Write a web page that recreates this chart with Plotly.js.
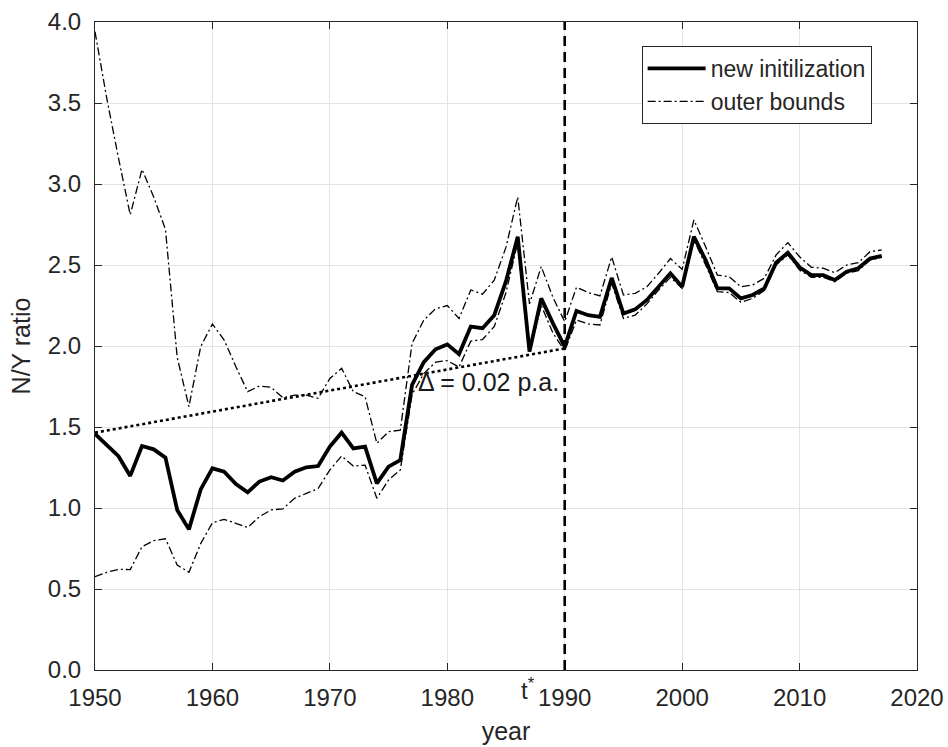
<!DOCTYPE html>
<html>
<head>
<meta charset="utf-8">
<script src="https://cdn.plot.ly/plotly-3.0.1.min.js"></script>
<style>html,body{margin:0;padding:0;background:#fff;}#chart{width:948px;height:747px;}</style>
</head>
<body>
<div id="chart"></div>
<script>
// ---- data ----
const years = [];
for (let y = 1950; y <= 2017; y++) years.push(y);

const newInit = [
  1.457, 1.39, 1.32, 1.198, 1.383, 1.362, 1.311, 0.988, 0.868, 1.115,
  1.245, 1.224, 1.148, 1.097, 1.163, 1.19, 1.17, 1.224, 1.251, 1.259,
  1.379, 1.465, 1.368, 1.379, 1.152, 1.255, 1.296, 1.76, 1.90, 1.98,
  2.01, 1.95, 2.12, 2.11, 2.19, 2.40, 2.675, 1.965, 2.294, 2.14,
  1.996, 2.216, 2.19, 2.18, 2.42, 2.20, 2.226, 2.284, 2.366, 2.449,
  2.366, 2.675, 2.53, 2.356, 2.356, 2.294, 2.315, 2.356, 2.514, 2.576,
  2.486, 2.438, 2.438, 2.407, 2.459, 2.48, 2.54, 2.556
];

const upperBound = [
  3.94, 3.53, 3.16, 2.81, 3.09, 2.92, 2.72, 1.93, 1.626, 1.996,
  2.136, 2.037, 1.872, 1.718, 1.753, 1.745, 1.68, 1.697, 1.697, 1.677,
  1.80, 1.862, 1.718, 1.687, 1.399, 1.471, 1.481, 2.016, 2.16, 2.23,
  2.25, 2.17, 2.346, 2.32, 2.407, 2.61, 2.92, 2.26, 2.49, 2.30,
  2.15, 2.362, 2.33, 2.309, 2.55, 2.315, 2.325, 2.366, 2.449, 2.54,
  2.473, 2.778, 2.613, 2.438, 2.428, 2.366, 2.377, 2.418, 2.562, 2.638,
  2.551, 2.486, 2.48, 2.453, 2.5, 2.514, 2.582, 2.593
];

const lowerBound = [
  0.576, 0.603, 0.621, 0.62, 0.761, 0.798, 0.81, 0.648, 0.603, 0.78,
  0.909, 0.93, 0.905, 0.88, 0.946, 0.988, 0.995, 1.06, 1.09, 1.12,
  1.235, 1.321, 1.259, 1.265, 1.06, 1.173, 1.235, 1.70, 1.83, 1.90,
  1.91, 1.87, 2.03, 2.04, 2.12, 2.33, 2.64, 1.96, 2.25, 2.08,
  1.97, 2.16, 2.136, 2.13, 2.387, 2.17, 2.19, 2.26, 2.346, 2.424,
  2.356, 2.654, 2.5, 2.335, 2.33, 2.27, 2.294, 2.342, 2.5, 2.562,
  2.469, 2.424, 2.424, 2.397, 2.449, 2.465, 2.531, 2.547
];

const trendYears = [1950, 1990];
const trendValues = [1.465, 1.985];
const tStar = 1990;

const xTicks = [1950, 1960, 1970, 1980, 1990, 2000, 2010, 2020];
const yTicks = [0, 0.5, 1, 1.5, 2, 2.5, 3, 3.5, 4];

const seriesNames = ['new initilization', 'outer bounds'];
const xLabel = 'year';
const yLabel = 'N/Y ratio';
const slopeLabel = '\u0394 = 0.02 p.a.';
const tStarLabel = 't<sup>*</sup>';

// ---- chart ----
const FONT = 'Liberation Sans, Arial, Helvetica, sans-serif';
const AX = '#262626';
const dashDot = '8px,3px,2px,3px';

const traces = [
  {x: years, y: upperBound, type: 'scatter', mode: 'lines', name: seriesNames[1],
   legendgroup: 'ob', legendrank: 2,
   line: {color: '#000', width: 1.3, dash: dashDot}},
  {x: years, y: lowerBound, type: 'scatter', mode: 'lines', name: seriesNames[1],
   legendgroup: 'ob', showlegend: false,
   line: {color: '#000', width: 1.3, dash: dashDot}},
  {x: trendYears, y: trendValues, type: 'scatter', mode: 'lines', showlegend: false,
   line: {color: '#000', width: 2.6, dash: 'dot'}},
  {x: years, y: newInit, type: 'scatter', mode: 'lines', name: seriesNames[0],
   legendrank: 1,
   line: {color: '#000', width: 3.8}}
];

const axisCommon = {
  showline: true, linecolor: AX, linewidth: 1, mirror: 'ticks',
  ticks: 'inside', ticklen: 7, tickwidth: 1, tickcolor: AX,
  showgrid: true, gridcolor: '#e3e3e3', gridwidth: 1, zeroline: false,
  tickfont: {family: FONT, size: 24, color: AX}
};

const layout = {
  width: 948, height: 747,
  margin: {l: 95, r: 31, t: 22, b: 77},
  paper_bgcolor: '#fff', plot_bgcolor: '#fff',
  font: {family: FONT, color: AX},
  showlegend: true,
  xaxis: Object.assign({}, axisCommon, {
    range: [xTicks[0], xTicks[xTicks.length - 1]],
    tickvals: xTicks, ticktext: xTicks.map(String),
    ticklabelstandoff: 6,
    title: {text: xLabel, font: {family: FONT, size: 25, color: AX}, standoff: 12}
  }),
  yaxis: Object.assign({}, axisCommon, {
    range: [yTicks[0], yTicks[yTicks.length - 1]],
    tickvals: yTicks, ticktext: yTicks.map(v => v.toFixed(1)),
    ticklabelstandoff: 8,
    title: {text: yLabel, font: {family: FONT, size: 25, color: AX}, standoff: 10}
  }),
  legend: {
    x: 0.665, y: 0.963, xanchor: 'left', yanchor: 'top',
    bgcolor: '#fff', bordercolor: AX, borderwidth: 1,
    font: {family: FONT, size: 23, color: AX},
    traceorder: 'normal', itemwidth: 58, tracegroupgap: 0
  },
  shapes: [{
    type: 'line', xref: 'x', yref: 'paper', x0: tStar, x1: tStar, y0: 0, y1: 1,
    line: {color: '#000', width: 2.6, dash: '10px,6px'}, layer: 'above'
  }],
  annotations: [
    {text: slopeLabel, xref: 'x', yref: 'y', x: 1977.3, y: 1.78,
     xanchor: 'left', yanchor: 'middle', showarrow: false,
     font: {family: FONT, size: 25, color: '#1a1a1a'}},
    {text: tStarLabel, xref: 'x', yref: 'paper', x: tStar, y: 0,
     xanchor: 'right', yanchor: 'top', xshift: -28, yshift: -2, showarrow: false,
     font: {family: FONT, size: 24, color: AX}}
  ]
};

Plotly.newPlot('chart', traces, layout, {displayModeBar: false, staticPlot: true});
</script>
</body>
</html>
